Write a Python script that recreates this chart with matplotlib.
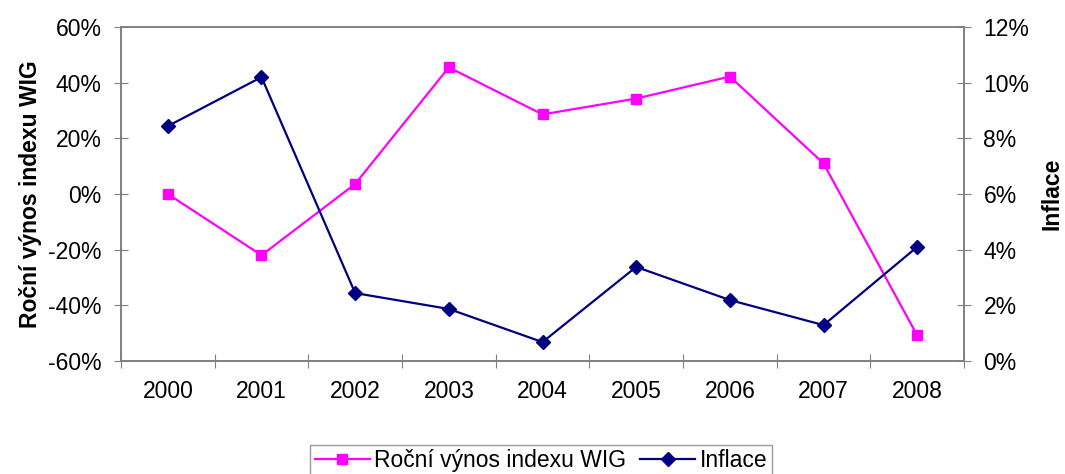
import matplotlib
matplotlib.use('Agg')
import matplotlib.pyplot as plt
from matplotlib.ticker import FuncFormatter, MultipleLocator

plt.rcParams['font.family'] = ['Liberation Sans', 'DejaVu Sans']

years = ['2000', '2001', '2002', '2003', '2004', '2005', '2006', '2007', '2008']
wig_return = [0.0, -22.0, 3.6, 45.5, 28.6, 34.3, 42.2, 11.0, -50.8]
inflation = [8.44, 10.2, 2.44, 1.87, 0.68, 3.38, 2.19, 1.29, 4.1]

FS = 16.5

fig = plt.figure(figsize=(10.65, 4.74), dpi=100)
ax = fig.add_axes([0.1136, 0.2384, 0.7916, 0.7046])
ax2 = ax.twinx()

x = list(range(len(years)))
l1, = ax.plot(x, wig_return, color='#ff00ff', marker='s', markersize=7.5,
              linewidth=1.6, label='Roční výnos indexu WIG')
l2, = ax2.plot(x, inflation, color='#000080', marker='D', markersize=7.5,
               linewidth=1.6, label='Inflace')

ax.set_xlim(-0.5, len(years) - 0.5)
ax.set_ylim(-60, 60)
ax2.set_ylim(0, 12)
ax.yaxis.set_major_locator(MultipleLocator(20))
ax2.yaxis.set_major_locator(MultipleLocator(2))
ax.yaxis.set_major_formatter(FuncFormatter(lambda v, p: '%d%%' % round(v)))
ax2.yaxis.set_major_formatter(FuncFormatter(lambda v, p: '%d%%' % round(v)))

ax.set_xticks([i + 0.5 for i in range(-1, len(years))])
ax.set_xticklabels([])
ax.set_xticks(x, minor=True)
ax.set_xticklabels(years, minor=True)
ax.tick_params(axis='x', which='minor', length=0, labelsize=FS, pad=14)
ax.tick_params(axis='x', which='major', direction='inout', length=10,
               color='#808080')
ax.tick_params(axis='y', direction='inout', length=10, color='#808080',
               labelsize=FS, pad=9)
ax2.tick_params(axis='y', direction='inout', length=10, color='#808080',
                labelsize=FS, pad=9)

for a in (ax, ax2):
    for s in a.spines.values():
        s.set_color('#808080')
        s.set_linewidth(1.2)

ax.set_ylabel('Roční výnos indexu WIG', fontsize=FS, fontweight='bold',
              labelpad=4)
ax2.set_ylabel('Inflace', fontsize=FS, fontweight='bold', labelpad=8)

leg = fig.legend(handles=[l1, l2], loc='upper center', ncol=2,
                 bbox_to_anchor=(0.508, 0.062), fontsize=FS, frameon=True,
                 fancybox=False, edgecolor='#808080', handlelength=2.4,
                 handletextpad=0.2, columnspacing=0.6, borderpad=0.2,
                 borderaxespad=0)
leg.get_frame().set_linewidth(1.0)

fig.savefig('out.png', dpi=100)
